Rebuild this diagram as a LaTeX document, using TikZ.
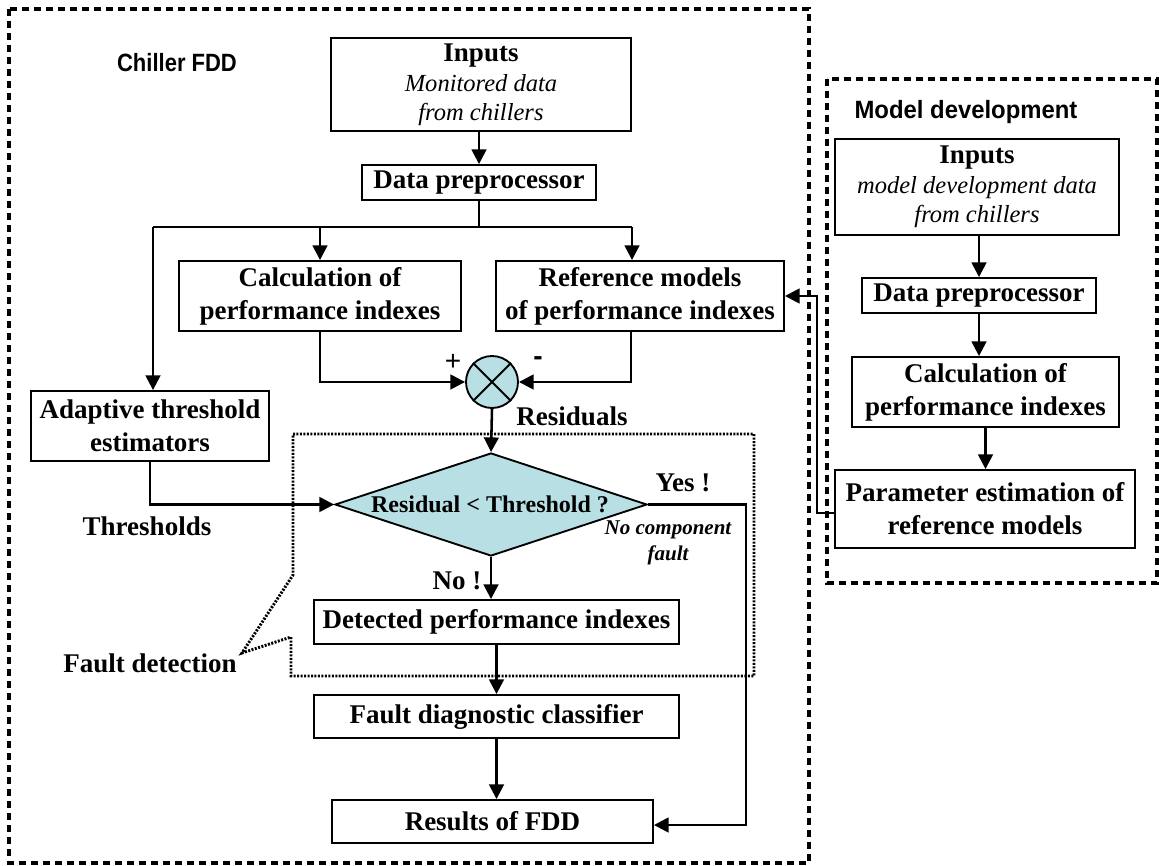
\documentclass[tikz,border=0pt]{standalone}
\usepackage{fontspec}
\usepackage{graphicx}
\setmainfont{Liberation Serif}
\newfontfamily\labsans{Liberation Sans}
\usetikzlibrary{arrows.meta,calc,shapes.geometric}
\definecolor{cyanfill}{RGB}{184,224,228}
\tikzset{
  sz/.style 2 args={minimum width=#1*0.75pt, minimum height=#2*0.75pt},
  box/.style={draw, line width=1.4pt, inner sep=0pt, align=center,
    font=\fontsize{20.25}{24.75}\selectfont\bfseries},
  inbox/.style={draw, line width=1.4pt, inner sep=0pt, align=center,
    font=\fontsize{18.4}{21.5}\selectfont\itshape},
  conn/.style={line width=1.9pt},
  arr/.style={conn, -{Triangle[length=11pt,width=11pt]}},
  lab/.style={inner sep=0pt, font=\fontsize{20.25}{24.75}\selectfont\bfseries},
  sanslab/.style={inner sep=0pt, font=\fontsize{18.75}{22}\selectfont\labsans\bfseries},
  group/.style={line width=2.3pt, dash pattern=on 5.5pt off 3.5pt},
  dotbox/.style={line width=2.2pt, dash pattern=on 1.5pt off 1.1pt},
  shade/.style={draw, fill=cyanfill, line width=1.4pt, inner sep=0pt}
}
\begin{document}
\begin{tikzpicture}[x=0.75pt,y=-0.75pt]
\useasboundingbox (0,0) rectangle (1159,866);

% group frames
\draw[group] (9,9) rectangle (809,863);
\draw[group] (827,79) rectangle (1157,583);
\node[sanslab] (tchiller) at (177,63) {\scalebox{0.88}[1]{Chiller FDD}};
\node[sanslab] (tmodel) at (966,112) {\scalebox{0.955}[1]{Model development}};

% Chiller FDD boxes
\node[inbox, sz={300}{93}] (in1) at (481,84.5)
  {{\fontsize{20.25}{24}\selectfont\bfseries\upshape Inputs}\\[1pt] Monitored data\\ from chillers};
\node[box, sz={234}{35}] (dp1) at (479,182.5) {Data preprocessor};
\node[box, sz={282}{70}] (calc1) at (320,296) {Calculation of\\ performance indexes};
\node[box, sz={288}{70}] (ref1) at (640,296) {Reference models\\ of performance indexes};
\node[box, sz={238}{70}] (adapt) at (150,426) {Adaptive threshold\\ estimators};
\node[shade, circle, minimum size=52*0.75pt] (sum) at (492,382) {};
\draw[line width=1.4pt] (sum.north west) -- (sum.south east) (sum.north east) -- (sum.south west);
\node[shade, diamond, sz={312}{103}] (dia) at (491,504.5) {};
\node[inner sep=0pt, font=\fontsize{18}{21}\selectfont\bfseries] (diatext) at (490,504) {Residual \textless{} Threshold ?};
\node[box, sz={365}{44}] (det) at (496.5,622) {Detected performance indexes};
\node[box, sz={365}{43}] (fdc) at (496.5,716.5) {Fault diagnostic classifier};
\node[box, sz={321}{43}] (res) at (492.5,821.5) {Results of FDD};

% Model development boxes
\node[inbox, sz={284}{96}] (in2) at (977,187)
  {{\fontsize{20.25}{24}\selectfont\bfseries\upshape Inputs}\\[1pt] model development data\\ from chillers};
\node[box, sz={234}{35}] (dp2) at (979,295.5) {Data preprocessor};
\node[box, sz={267}{70}] (calc2) at (985.5,392) {Calculation of\\ performance indexes};
\node[box, sz={300}{78}] (param) at (985,509) {Parameter estimation of\\ reference models};

% fault detection dotted frame
\draw[dotbox] (293,434) -- (754,434) -- (754,676) -- (291,676) -- (291,637) -- (242,653) -- (293,575) -- cycle;

% connectors
\coordinate (bl) at (153,227);
\coordinate (br) at (632,227);
\draw[arr] (in1.south -| dp1.north) -- (dp1.north);
\draw[line width=1.3pt] (dp1.south) -- (dp1.south |- bl);
\draw[conn] (bl) -- (br);
\draw[arr] (calc1.north |- bl) -- (calc1.north);
\draw[arr] (br) -- (br |- ref1.north);
\draw[arr] (bl) -- (bl |- adapt.north);
\draw[arr] (calc1.south) |- (sum.west);
\draw[arr] ($(ref1.south)+(-9,0)$) |- (sum.east);
\draw[arr] (sum.south) -- (dia.north);
\draw[arr] (adapt.south) |- (dia.west);
\draw[arr] (dia.south) -- (dia.south |- det.north);
\draw[arr] (det.south) -- (det.south |- fdc.north);
\draw[arr] (fdc.south) -- (fdc.south |- res.north);
\draw[arr] (dia.east) -- ++(98,0) |- ($(res.east)+(0,3.5)$);

\draw[arr] (in2.south -| dp2.north) -- (dp2.north);
\draw[arr] (dp2.south) -- (dp2.south |- calc2.north);
\draw[arr] (calc2.south) -- (calc2.south |- param.north);
\draw[arr] ($(param.west)+(0,4)$) -- ++(-17,0) |- (ref1.east);

% labels
\node[inner sep=0pt, font=\fontsize{21}{22}\selectfont\labsans] (plus) at (453,362) {+};
\node[inner sep=0pt, font=\fontsize{21}{22}\selectfont\labsans\bfseries] (minus) at (538,361) {-};
\node[lab] (tresid) at (572,416) {Residuals};
\node[lab] (tthr) at (147,526) {Thresholds};
\node[lab] (tyes) at (683,483) {Yes !};
\node[inner sep=0pt, align=center, font=\fontsize{15.75}{20}\selectfont\bfseries\itshape] (tnocomp) at (668,543) {No component\\ fault};
\node[lab] (tno) at (457,581) {No !};
\node[lab] (tfd) at (150,663) {Fault detection};
\end{tikzpicture}
\end{document}
